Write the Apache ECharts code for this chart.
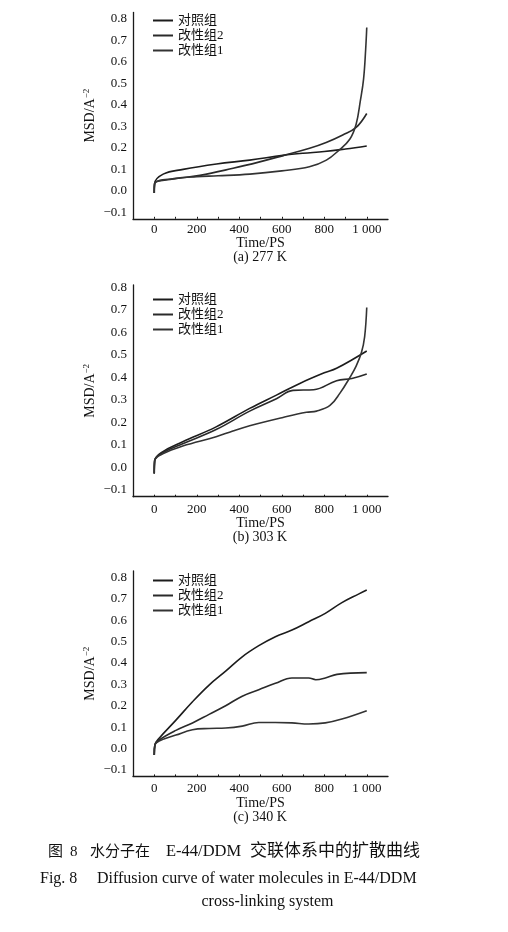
<!DOCTYPE html>
<html>
<head>
<meta charset="utf-8">
<script src="https://cdn.jsdelivr.net/npm/echarts@6/dist/echarts.min.js"></script>
<style>
  html, body { margin: 0; padding: 0; background: #fff; }
  #chart { width: 508px; height: 932px; }
</style>
</head>
<body>
<div id="chart"></div>
<script>
// series names (legend)
const seriesNames = ['对照组', '改性组2', '改性组1'];
const panelLabels = ['(a) 277 K', '(b) 303 K', '(c) 340 K'];
const xTickValues = [0, 200, 400, 600, 800, 1000];
const xMinorTicks = [0, 100, 200, 300, 400, 500, 600, 700, 800, 900, 1000];
const yTickValues = [-0.1, 0, 0.1, 0.2, 0.3, 0.4, 0.5, 0.6, 0.7, 0.8];

// (a) 277 K  -- [time, MSD]
const a277Ctrl = [[0, -0.01], [2, 0.035], [42, 0.078], [136, 0.10], [293, 0.125], [449, 0.143], [606, 0.165], [700, 0.175], [800, 0.183], [900, 0.195], [1000, 0.209]];
const a277Mod2 = [[0, -0.01], [2, 0.035], [74, 0.053], [215, 0.072], [371, 0.105], [496, 0.135], [606, 0.164], [731, 0.198], [809, 0.225], [887, 0.26], [950, 0.295], [1000, 0.36]];
const a277Mod1 = [[0, -0.01], [2, 0.035], [100, 0.058], [200, 0.066], [300, 0.07], [450, 0.078], [600, 0.093], [730, 0.112], [810, 0.143], [870, 0.19], [920, 0.24], [950, 0.31], [970, 0.42], [985, 0.52], [995, 0.66], [1000, 0.76]];

// (b) 303 K
const b303Ctrl = [[0, -0.027], [2, 0.03], [39, 0.069], [134, 0.114], [291, 0.18], [449, 0.262], [575, 0.321], [685, 0.373], [800, 0.42], [858, 0.44], [1000, 0.517]];
const b303Mod2 = [[0, -0.027], [2, 0.03], [40, 0.065], [134, 0.105], [291, 0.168], [449, 0.25], [575, 0.305], [653, 0.342], [750, 0.345], [858, 0.385], [930, 0.395], [1000, 0.415]];
const b303Mod1 = [[0, -0.027], [2, 0.03], [40, 0.06], [134, 0.095], [291, 0.136], [370, 0.162], [449, 0.185], [606, 0.222], [716, 0.245], [764, 0.25], [827, 0.275], [874, 0.33], [921, 0.40], [950, 0.45], [975, 0.51], [990, 0.58], [1000, 0.71]];

// (c) 340 K
const c340Ctrl = [[0, -0.03], [3, 0.017], [23, 0.048], [102, 0.133], [180, 0.219], [258, 0.297], [336, 0.362], [414, 0.429], [492, 0.481], [570, 0.523], [648, 0.554], [727, 0.593], [805, 0.632], [883, 0.682], [961, 0.722], [1000, 0.741]];
const c340Mod2 = [[0, -0.03], [3, 0.017], [23, 0.04], [102, 0.085], [180, 0.12], [258, 0.16], [336, 0.2], [414, 0.245], [492, 0.275], [570, 0.305], [648, 0.33], [727, 0.33], [760, 0.322], [805, 0.33], [860, 0.347], [1000, 0.355]];
const c340Mod1 = [[0, -0.03], [3, 0.017], [23, 0.035], [102, 0.063], [180, 0.088], [258, 0.094], [336, 0.096], [414, 0.105], [492, 0.122], [570, 0.122], [648, 0.12], [727, 0.115], [805, 0.12], [883, 0.138], [1000, 0.177]];

const panelData = [
  [a277Ctrl, a277Mod2, a277Mod1],
  [b303Ctrl, b303Mod2, b303Mod1],
  [c340Ctrl, c340Mod2, c340Mod1]
];

const FONT = '"Liberation Serif", "Times New Roman", "Noto Sans CJK SC", serif';
const lineColors = ['#1c1c1c', '#2a2a2a', '#333333'];
const axisColor = '#1a1a1a';

// grid boxes (pixel)
const grids = [
  { left: 133, width: 255, top: 12.5, height: 206.3 },
  { left: 133, width: 255, top: 285, height: 211.7 },
  { left: 133, width: 255, top: 571, height: 205.4 }
];
const yMax = [0.83, 0.81, 0.83];
const labelMargin = [4, 6, 6];
const legendTop = [14, 293, 574];

let xAxis = [], yAxis = [], series = [], legend = [], graphic = [];

for (let i = 0; i < 3; i++) {
  xAxis.push({
    type: 'value',
    gridIndex: i,
    min: -100,
    max: 1100,
    name: 'Time/PS',
    nameLocation: 'middle',
    nameGap: 18,
    nameTextStyle: { fontFamily: FONT, fontSize: 14, color: '#111' },
    axisLine: { onZero: false, lineStyle: { color: axisColor, width: 1.3 } },
    axisTick: { inside: true, length: 2, customValues: xMinorTicks, lineStyle: { color: axisColor } },
    axisLabel: {
      customValues: xTickValues,
      margin: labelMargin[i],
      fontFamily: FONT, fontSize: 13, color: '#111',
      formatter: function (v) { return v >= 1000 ? '1 000' : String(v); }
    },
    splitLine: { show: false }
  });
  yAxis.push({
    type: 'value',
    gridIndex: i,
    min: -0.13,
    max: yMax[i],
    name: '{n|MSD/A}{s|−2}',
    nameLocation: 'middle',
    nameGap: 35,
    nameMoveOverlap: false,
    nameRotate: 90,
    nameTextStyle: {
      fontFamily: FONT, fontSize: 14, color: '#111',
      rich: {
        n: { fontFamily: FONT, fontSize: 14, color: '#111' },
        s: { fontFamily: FONT, fontSize: 9, color: '#111', padding: [0, 0, 7, 0] }
      }
    },
    axisLine: { show: true, onZero: false, lineStyle: { color: axisColor, width: 1.3 } },
    axisTick: { show: false },
    axisLabel: {
      customValues: yTickValues,
      margin: 6,
      fontFamily: FONT, fontSize: 13, color: '#111',
      formatter: function (v) {
        return v < 0 ? '−' + Math.abs(v).toFixed(1) : v.toFixed(1);
      }
    },
    splitLine: { show: false }
  });
  legend.push({
    orient: 'vertical',
    left: 153,
    top: legendTop[i],
    padding: 0,
    itemGap: 2,
    itemWidth: 20,
    itemHeight: 2,
    icon: 'rect',
    selectedMode: false,
    data: seriesNames,
    textStyle: { fontFamily: FONT, fontSize: 13, color: '#111', lineHeight: 13 }
  });
  for (let k = 0; k < 3; k++) {
    series.push({
      name: seriesNames[k],
      type: 'line',
      xAxisIndex: i,
      yAxisIndex: i,
      data: panelData[i][k],
      showSymbol: false,
      symbol: 'none',
      smooth: 0.4,
      itemStyle: { color: lineColors[k] },
      lineStyle: { color: lineColors[k], width: 1.6 },
      silent: true
    });
  }
}

// panel captions
const panelCaptionY = [257.5, 537.7, 817.7];
for (let i = 0; i < 3; i++) {
  graphic.push({
    type: 'text', x: 260, y: panelCaptionY[i],
    style: { text: panelLabels[i], font: '14px ' + FONT, fill: '#111', textAlign: 'center', textVerticalAlign: 'middle' }
  });
}

// figure caption
const capCn = [
  { t: '图', x: 48, size: 15 },
  { t: '8', x: 70, size: 15 },
  { t: '水分子在', x: 90, size: 15 },
  { t: 'E-44/DDM', x: 166, size: 16.5 },
  { t: '交联体系中的扩散曲线', x: 250, size: 17 }
];
capCn.forEach(function (c) {
  graphic.push({
    type: 'text', x: c.x, y: 852,
    style: { text: c.t, font: c.size + 'px ' + FONT, fill: '#111', textAlign: 'left', textVerticalAlign: 'middle' }
  });
});
graphic.push({
  type: 'text', x: 40, y: 879,
  style: { text: 'Fig. 8', font: '16px ' + FONT, fill: '#111', textAlign: 'left', textVerticalAlign: 'middle' }
});
graphic.push({
  type: 'text', x: 97, y: 879,
  style: { text: 'Diffusion curve of water molecules in E-44/DDM', font: '16px ' + FONT, fill: '#111', textAlign: 'left', textVerticalAlign: 'middle' }
});
graphic.push({
  type: 'text', x: 267.5, y: 902,
  style: { text: 'cross-linking system', font: '16px ' + FONT, fill: '#111', textAlign: 'center', textVerticalAlign: 'middle' }
});

const chart = echarts.init(document.getElementById('chart'), null, { renderer: 'canvas' });
chart.setOption({
  backgroundColor: '#ffffff',
  animation: false,
  grid: grids,
  xAxis: xAxis,
  yAxis: yAxis,
  legend: legend,
  series: series,
  graphic: graphic
});
</script>
</body>
</html>
